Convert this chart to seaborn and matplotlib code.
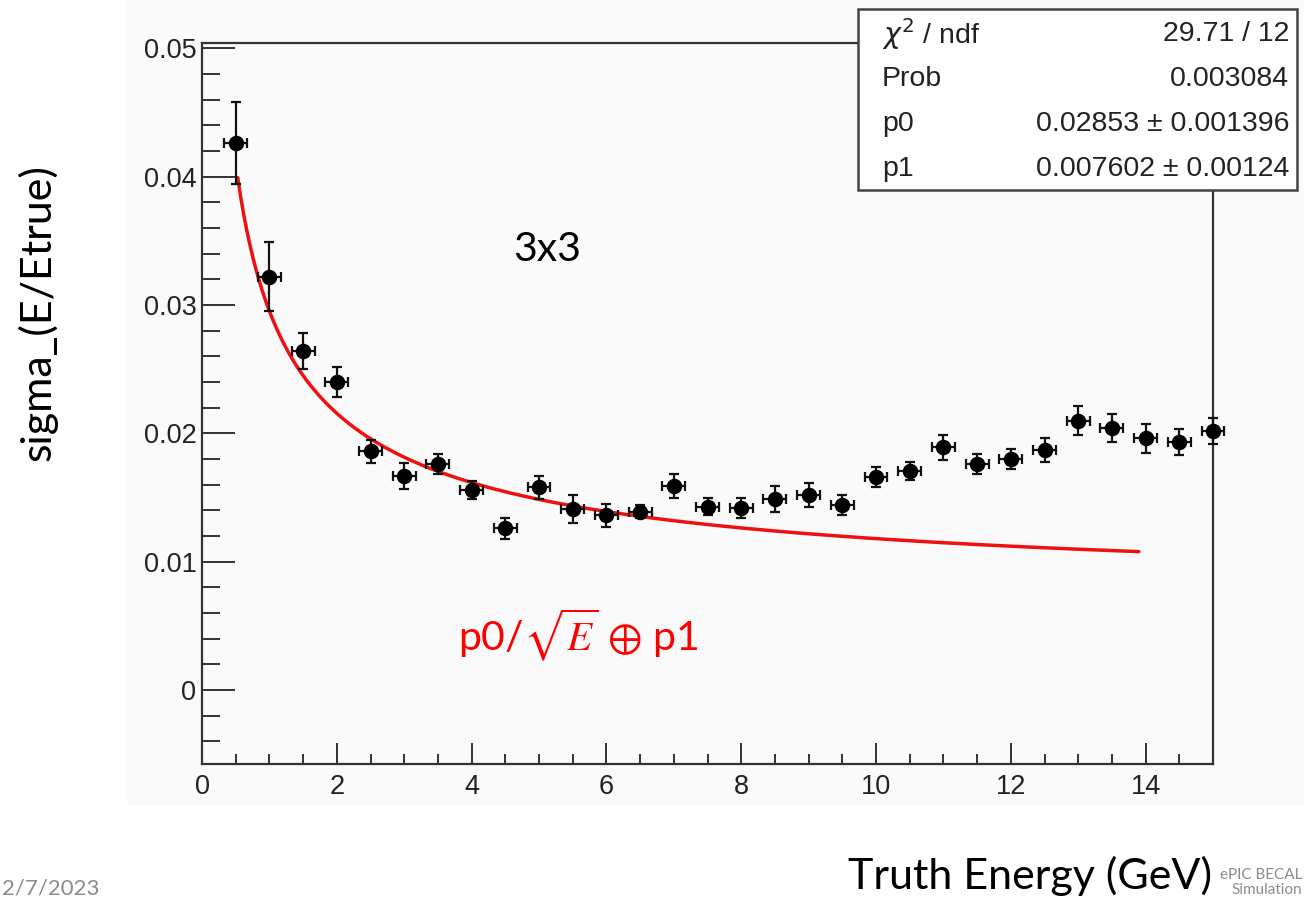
import numpy as np
import pandas as pd
import matplotlib
matplotlib.use("Agg")
import matplotlib.pyplot as plt
import seaborn as sns
from matplotlib.patches import Rectangle
from matplotlib.ticker import MultipleLocator, FixedLocator, FixedFormatter

# ---------------- data ----------------
energy = [0.5, 1.0, 1.5, 2.0, 2.5, 3.0, 3.5, 4.0, 4.5, 5.0,
          5.5, 6.0, 6.5, 7.0, 7.5, 8.0, 8.5, 9.0, 9.5, 10.0,
          10.5, 11.0, 11.5, 12.0, 12.5, 13.0, 13.5, 14.0, 14.5, 15.0]
sigma = [0.0426, 0.0322, 0.0264, 0.0240, 0.0186, 0.0167, 0.0176, 0.0156, 0.0126, 0.0158,
         0.0141, 0.0136, 0.0139, 0.0159, 0.0143, 0.0142, 0.0149, 0.0152, 0.0144, 0.0166,
         0.0171, 0.0189, 0.0176, 0.0180, 0.0187, 0.0210, 0.0204, 0.0196, 0.0193, 0.0202]
sigma_err = [0.0032, 0.0027, 0.0014, 0.0012, 0.0009, 0.0010, 0.0008, 0.0007, 0.0008, 0.0009,
             0.0011, 0.0009, 0.0005, 0.0009, 0.0007, 0.0008, 0.0010, 0.0009, 0.0008, 0.0008,
             0.0007, 0.0010, 0.0008, 0.0008, 0.0009, 0.0011, 0.0011, 0.0011, 0.0010, 0.0010]
energy_err = [0.17] * 30

p0 = 0.02853
p1 = 0.007602
fit_range = [0.53, 13.9]

stats_labels = [r"$\chi^2$ / ndf", "Prob", "p0", "p1"]
stats_values = ["29.71 / 12", "0.003084", "0.02853 \u00b1 0.001396", "0.007602 \u00b1 0.00124"]

x_ticks = [0, 2, 4, 6, 8, 10, 12, 14]
x_tick_labels = ["0", "2", "4", "6", "8", "10", "12", "14"]
y_ticks = [0.0, 0.01, 0.02, 0.03, 0.04, 0.05]
y_tick_labels = ["0", "0.01", "0.02", "0.03", "0.04", "0.05"]

# ---------------- style ----------------
sns.set_theme(style="ticks")
plt.rcParams["font.family"] = ["Liberation Sans", "DejaVu Sans"]

W, H = 1304, 897
fig = plt.figure(figsize=(W / 100, H / 100), dpi=100)
fig.patch.set_facecolor("white")

# ROOT canvas background
fig.patches.append(Rectangle((127 / W, 1 - 805 / H), 1 - 127 / W, 805 / H,
                             transform=fig.transFigure, facecolor="#fafafa",
                             edgecolor="none", zorder=-1))

ax = fig.add_axes([202 / W, 1 - 764 / H, (1213 - 202) / W, (764 - 43) / H])
ax.set_facecolor("#fafafa")

# fit curve
E = np.linspace(fit_range[0], fit_range[1], 300)
fit_df = pd.DataFrame({"E": E, "f": np.sqrt((p0 / np.sqrt(E)) ** 2 + p1 ** 2)})
sns.lineplot(data=fit_df, x="E", y="f", color="#f01010", linewidth=2.5,
             estimator=None, sort=False, ax=ax, zorder=2)

# error bars
eb = ax.errorbar(energy, sigma, xerr=energy_err, yerr=sigma_err, fmt="none",
                 ecolor="#111111", elinewidth=1.6, capsize=3.5, capthick=1.6, zorder=3)
for art in eb.get_children():
    art.set_clip_on(False)

# markers
df = pd.DataFrame({"energy": energy, "sigma": sigma})
sns.scatterplot(data=df, x="energy", y="sigma", color="black", s=125,
                edgecolor="black", linewidth=0, ax=ax, zorder=4, clip_on=False)

ax.set_xlim(0, 15)
ax.set_ylim(-0.00576, 0.05041)
ax.set_xlabel("")
ax.set_ylabel("")

ax.xaxis.set_major_locator(FixedLocator(x_ticks))
ax.xaxis.set_major_formatter(FixedFormatter(x_tick_labels))
ax.xaxis.set_minor_locator(MultipleLocator(0.5))
ax.yaxis.set_major_locator(FixedLocator(y_ticks))
ax.yaxis.set_major_formatter(FixedFormatter(y_tick_labels))
ax.yaxis.set_minor_locator(MultipleLocator(0.002))

for s in ax.spines.values():
    s.set_visible(True)
    s.set_color("#333333")
    s.set_linewidth(1.6)

ax.tick_params(axis="y", which="major", direction="in", length=24, width=1.4,
               color="#333333", labelcolor="#222222", labelsize=19.5, pad=4,
               right=False, left=True)
ax.tick_params(axis="y", which="minor", direction="in", length=13, width=1.4,
               color="#333333", right=False, left=True)
ax.tick_params(axis="x", which="major", direction="in", length=15, width=1.4,
               color="#333333", labelcolor="#222222", labelsize=19.5, pad=7,
               top=False, bottom=True)
ax.tick_params(axis="x", which="minor", direction="in", length=7, width=1.4,
               color="#333333", top=False, bottom=True)

# stats box
fig.patches.append(Rectangle((858 / W, 1 - 190 / H), (1297 - 858) / W, (190 - 9) / H,
                             transform=fig.transFigure, facecolor="white",
                             edgecolor="#444444", linewidth=1.8, zorder=5))
row_y = [34, 79, 124, 169]
for lab, val, ry in zip(stats_labels, stats_values, row_y):
    fig.text(882 / W, 1 - ry / H, lab, ha="left", va="center", fontsize=20.5,
             color="#222222", zorder=6)
    fig.text(1289 / W, 1 - ry / H, val, ha="right", va="center", fontsize=20.5,
             color="#222222", zorder=6)

# slide annotations
slide_font = ["Lato", "DejaVu Sans"]
fig.text(513 / W, 1 - 261 / H, "3x3", ha="left", va="baseline", fontsize=29.5,
         family=slide_font, color="black")
fig.text(458 / W, 1 - 650 / H, r"p0/$\sqrt{E}$ $\oplus$ p1", ha="left", va="baseline",
         fontsize=29.5, family=slide_font, math_fontfamily="stix", color="#ff0000")
fig.text(38 / W, 1 - 313 / H, "sigma_(E/Etrue)", rotation=90, ha="center", va="center",
         fontsize=31, family=slide_font, color="black")

# footer
fig.text(2 / W, 1 - 894 / H, "2/7/2023", ha="left", va="baseline", fontsize=16,
         family=slide_font, color="#8c8c8c", zorder=1)
fig.text(1302 / W, 1 - 894 / H, "ePIC BECAL\nSimulation", ha="right", va="baseline",
         fontsize=11, linespacing=1.1, family=slide_font, color="#8c8c8c", zorder=1)
fig.text(848 / W, 1 - 889 / H, "Truth Energy (GeV)", ha="left", va="baseline",
         fontsize=31, family=slide_font, color="black", zorder=2)

fig.savefig("out.png", dpi=100, facecolor="white")
